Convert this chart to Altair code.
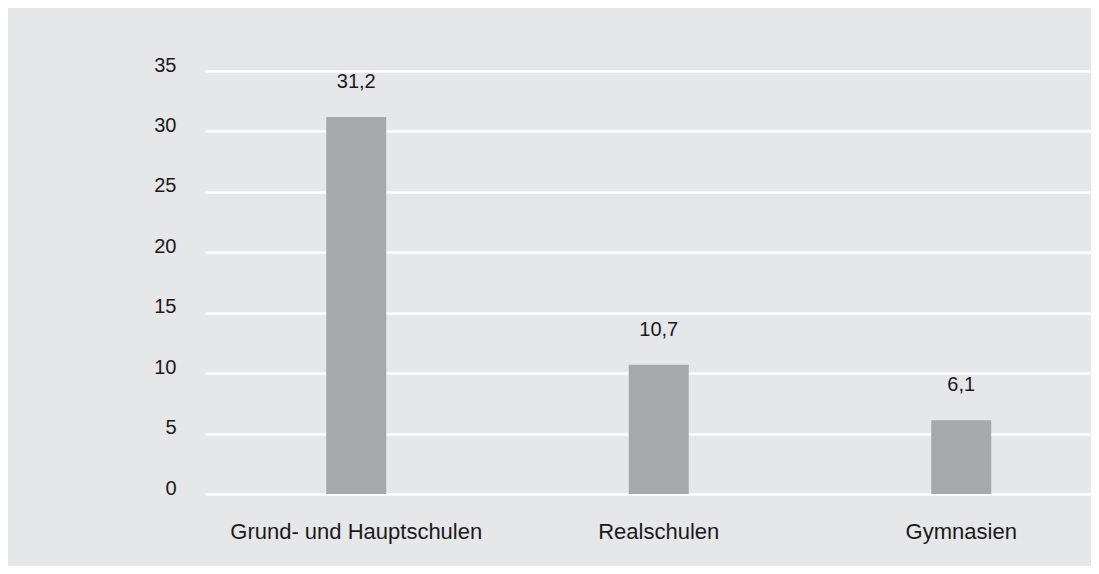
import altair as alt
import pandas as pd

categories = ["Grund- und Hauptschulen", "Realschulen", "Gymnasien"]
values = [31.2, 10.7, 6.1]
value_labels = ["31,2", "10,7", "6,1"]

df = pd.DataFrame({"kat": categories, "wert": values, "label": value_labels})

FONT = "Liberation Sans"

base = alt.Chart(df).encode(
    x=alt.X(
        "kat:N",
        sort=categories,
        title=None,
        scale=alt.Scale(paddingInner=0, paddingOuter=0, range=[0, 907.5]),
        axis=alt.Axis(
            labelAngle=0,
            labelFontSize=22,
            labelFont=FONT,
            labelColor="#1a1a1a",
            labelBaseline="alphabetic",
            labelPadding=44,
            labelLimit=0,
            ticks=False,
            tickSize=0,
            domain=False,
            grid=False,
        ),
    ),
    y=alt.Y(
        "wert:Q",
        title=None,
        scale=alt.Scale(domain=[0, 35], nice=False),
        axis=alt.Axis(
            values=[0, 5, 10, 15, 20, 25, 30, 35],
            labelFontSize=20,
            labelFont=FONT,
            labelColor="#1a1a1a",
            labelBaseline="alphabetic",
            labelPadding=29,
            ticks=False,
            tickSize=0,
            domain=False,
            grid=True,
            gridColor="#ffffff",
            gridWidth=2.5,
            gridOpacity=1,
        ),
    ),
)

bars = base.mark_bar(color="#a7a8ab", size=60)

labels = base.mark_text(
    baseline="alphabetic",
    dy=-29,
    fontSize=20,
    font=FONT,
    color="#1a1a1a",
).encode(text="label:N")

chart = (
    (bars + labels)
    .properties(
        width=886,
        height=423,
        background="#e6e7e8",
        padding={"left": 197, "top": 63, "right": 0, "bottom": 72},
        autosize=alt.AutoSizeParams(type="none"),
    )
    .configure_view(stroke=None, fill="#e6e7e8")
)

chart.save("out.html", embed_options={"renderer": "svg", "actions": False})
